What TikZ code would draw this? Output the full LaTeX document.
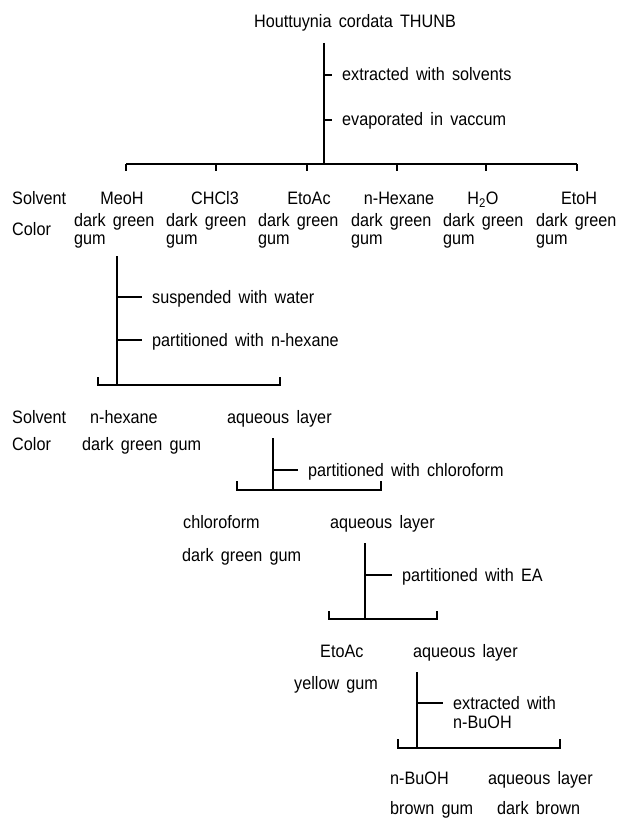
\documentclass[tikz,border=0pt]{standalone}
\usepackage{fontspec}
\setmainfont{Liberation Sans}[FakeStretch=0.9,WordSpace=1.6]
\begin{document}
\begin{tikzpicture}[x=1pt,y=-1pt,
  tx/.style={anchor=base west,inner sep=0pt,yshift=-6pt,font=\fontsize{18}{20}\selectfont},
  tc/.style={anchor=base,inner sep=0pt,yshift=-6pt,font=\fontsize{18}{20}\selectfont},
  two/.style={anchor=north west,inner sep=0pt,align=left,font=\fontsize{18}{18}\selectfont},
  ln/.style={line width=2.1pt},
  tk/.style={line width=1.6pt,shorten >=10pt},
  drop/.style={line width=1.8pt}]
\useasboundingbox (0,0) rectangle (620,818);

% ---------- level 1 ----------
\node[tc] (title) at (355,22) {Houttuynia cordata THUNB};
\coordinate (t0) at (324,43);
\coordinate (t1) at (324,164);
\draw[ln] (t0) -- (t1);
\node[tx] (ext) at (342,75) {extracted with solvents};
\node[tx] (evap) at (342,120) {evaporated in vaccum};
\coordinate (k1) at (324,75);
\coordinate (k2) at (324,120);
\draw[tk] (k1) -- (k1 -| ext.west);
\draw[tk] (k2) -- (k2 -| evap.west);

\coordinate (b1a) at (126,164);
\coordinate (b1f) at (577,164);
\draw[ln] (b1a) -- (b1f);
\foreach \x/\n in {126/a,216/b,307/c,397/d,486/e,577/f}{
  \coordinate (d1\n) at (\x,164);
  \draw[drop] (d1\n) -- ++(0,7);
}

\node[tx] (solv1) at (12,199) {Solvent};
\node[tc] (meoh) at (122,199) {MeoH};
\node[tc] (chcl) at (215,199) {CHCl3};
\node[tc] (etoac1) at (309,199) {EtoAc};
\node[tc] (nhex1) at (399,199) {n-Hexane};
\node[tc] (water) at (483,199) {H\textsubscript{2}O};
\node[tc] (etoh) at (579,199) {EtoH};

\node[tx] (col1) at (12,230) {Color};
\foreach \x/\n in {74/a,166/b,258/c,351/d,443/e,536/f}{
  \node[two] (dg\n) at (\x,213) {dark green\\gum};
}

% ---------- MeoH branch ----------
\coordinate (m0) at (117,256);
\coordinate (m1) at (117,385);
\draw[ln] (m0) -- (m1);
\node[tx] (susp) at (152,297) {suspended with water};
\node[tx] (parth) at (152,340) {partitioned with n-hexane};
\coordinate (mk1) at (117,297);
\coordinate (mk2) at (117,340);
\draw[tk] (mk1) -- (mk1 -| susp.west);
\draw[tk] (mk2) -- (mk2 -| parth.west);

\coordinate (b2a) at (98,385);
\coordinate (b2b) at (280,385);
\draw[ln] ([yshift=8pt]b2a) -- (b2a) -- (b2b) -- ([yshift=8pt]b2b);

\node[tx] (solv2) at (12,417) {Solvent};
\node[tx] (hex2) at (90,417) {n-hexane};
\node[tx] (aq2) at (227,417) {aqueous layer};
\node[tx] (col2) at (12,444) {Color};
\node[tx] (dgg2) at (82,444) {dark green gum};

% ---------- chloroform step ----------
\coordinate (a0) at (273,438);
\coordinate (a1) at (273,490);
\draw[ln] (a0) -- (a1);
\node[tx] (partc) at (308,470) {partitioned with chloroform};
\coordinate (ak) at (273,470);
\draw[tk] (ak) -- (ak -| partc.west);

\coordinate (b3a) at (237,490);
\coordinate (b3b) at (381,490);
\draw[ln] ([yshift=9pt]b3a) -- (b3a) -- (b3b) -- ([yshift=9pt]b3b);

\node[tx] (chlor) at (183,522) {chloroform};
\node[tx] (aq3) at (330,522) {aqueous layer};
\node[tx] (dgg3) at (182,555) {dark green gum};

% ---------- EA step ----------
\coordinate (e0) at (365,543);
\coordinate (e1) at (365,619);
\draw[ln] (e0) -- (e1);
\node[tx] (parte) at (402,575) {partitioned with EA};
\coordinate (ek) at (365,575);
\draw[tk] (ek) -- (ek -| parte.west);

\coordinate (b4a) at (329,619);
\coordinate (b4b) at (437,619);
\draw[ln] ([yshift=8pt]b4a) -- (b4a) -- (b4b) -- ([yshift=8pt]b4b);

\node[tx] (etoac4) at (320,651) {EtoAc};
\node[tx] (aq4) at (413,651) {aqueous layer};
\node[tx] (yg) at (294,683) {yellow gum};

% ---------- BuOH step ----------
\coordinate (n0) at (417,672);
\coordinate (n1) at (417,748);
\draw[ln] (n0) -- (n1);
\node[tx] (extb) at (453,703) {extracted with};
\node[tx] (extb2) at (453,722) {n-BuOH};
\coordinate (nk) at (417,703);
\draw[tk] (nk) -- (nk -| extb.west);

\coordinate (b5a) at (398,748);
\coordinate (b5b) at (560,748);
\draw[ln] ([yshift=9pt]b5a) -- (b5a) -- (b5b) -- ([yshift=9pt]b5b);

\node[tx] (buoh) at (390,778) {n-BuOH};
\node[tx] (aq5) at (488,778) {aqueous layer};
\node[tx] (bg) at (390,808) {brown gum};
\node[tx] (db) at (497,808) {dark brown};
\end{tikzpicture}
\end{document}
